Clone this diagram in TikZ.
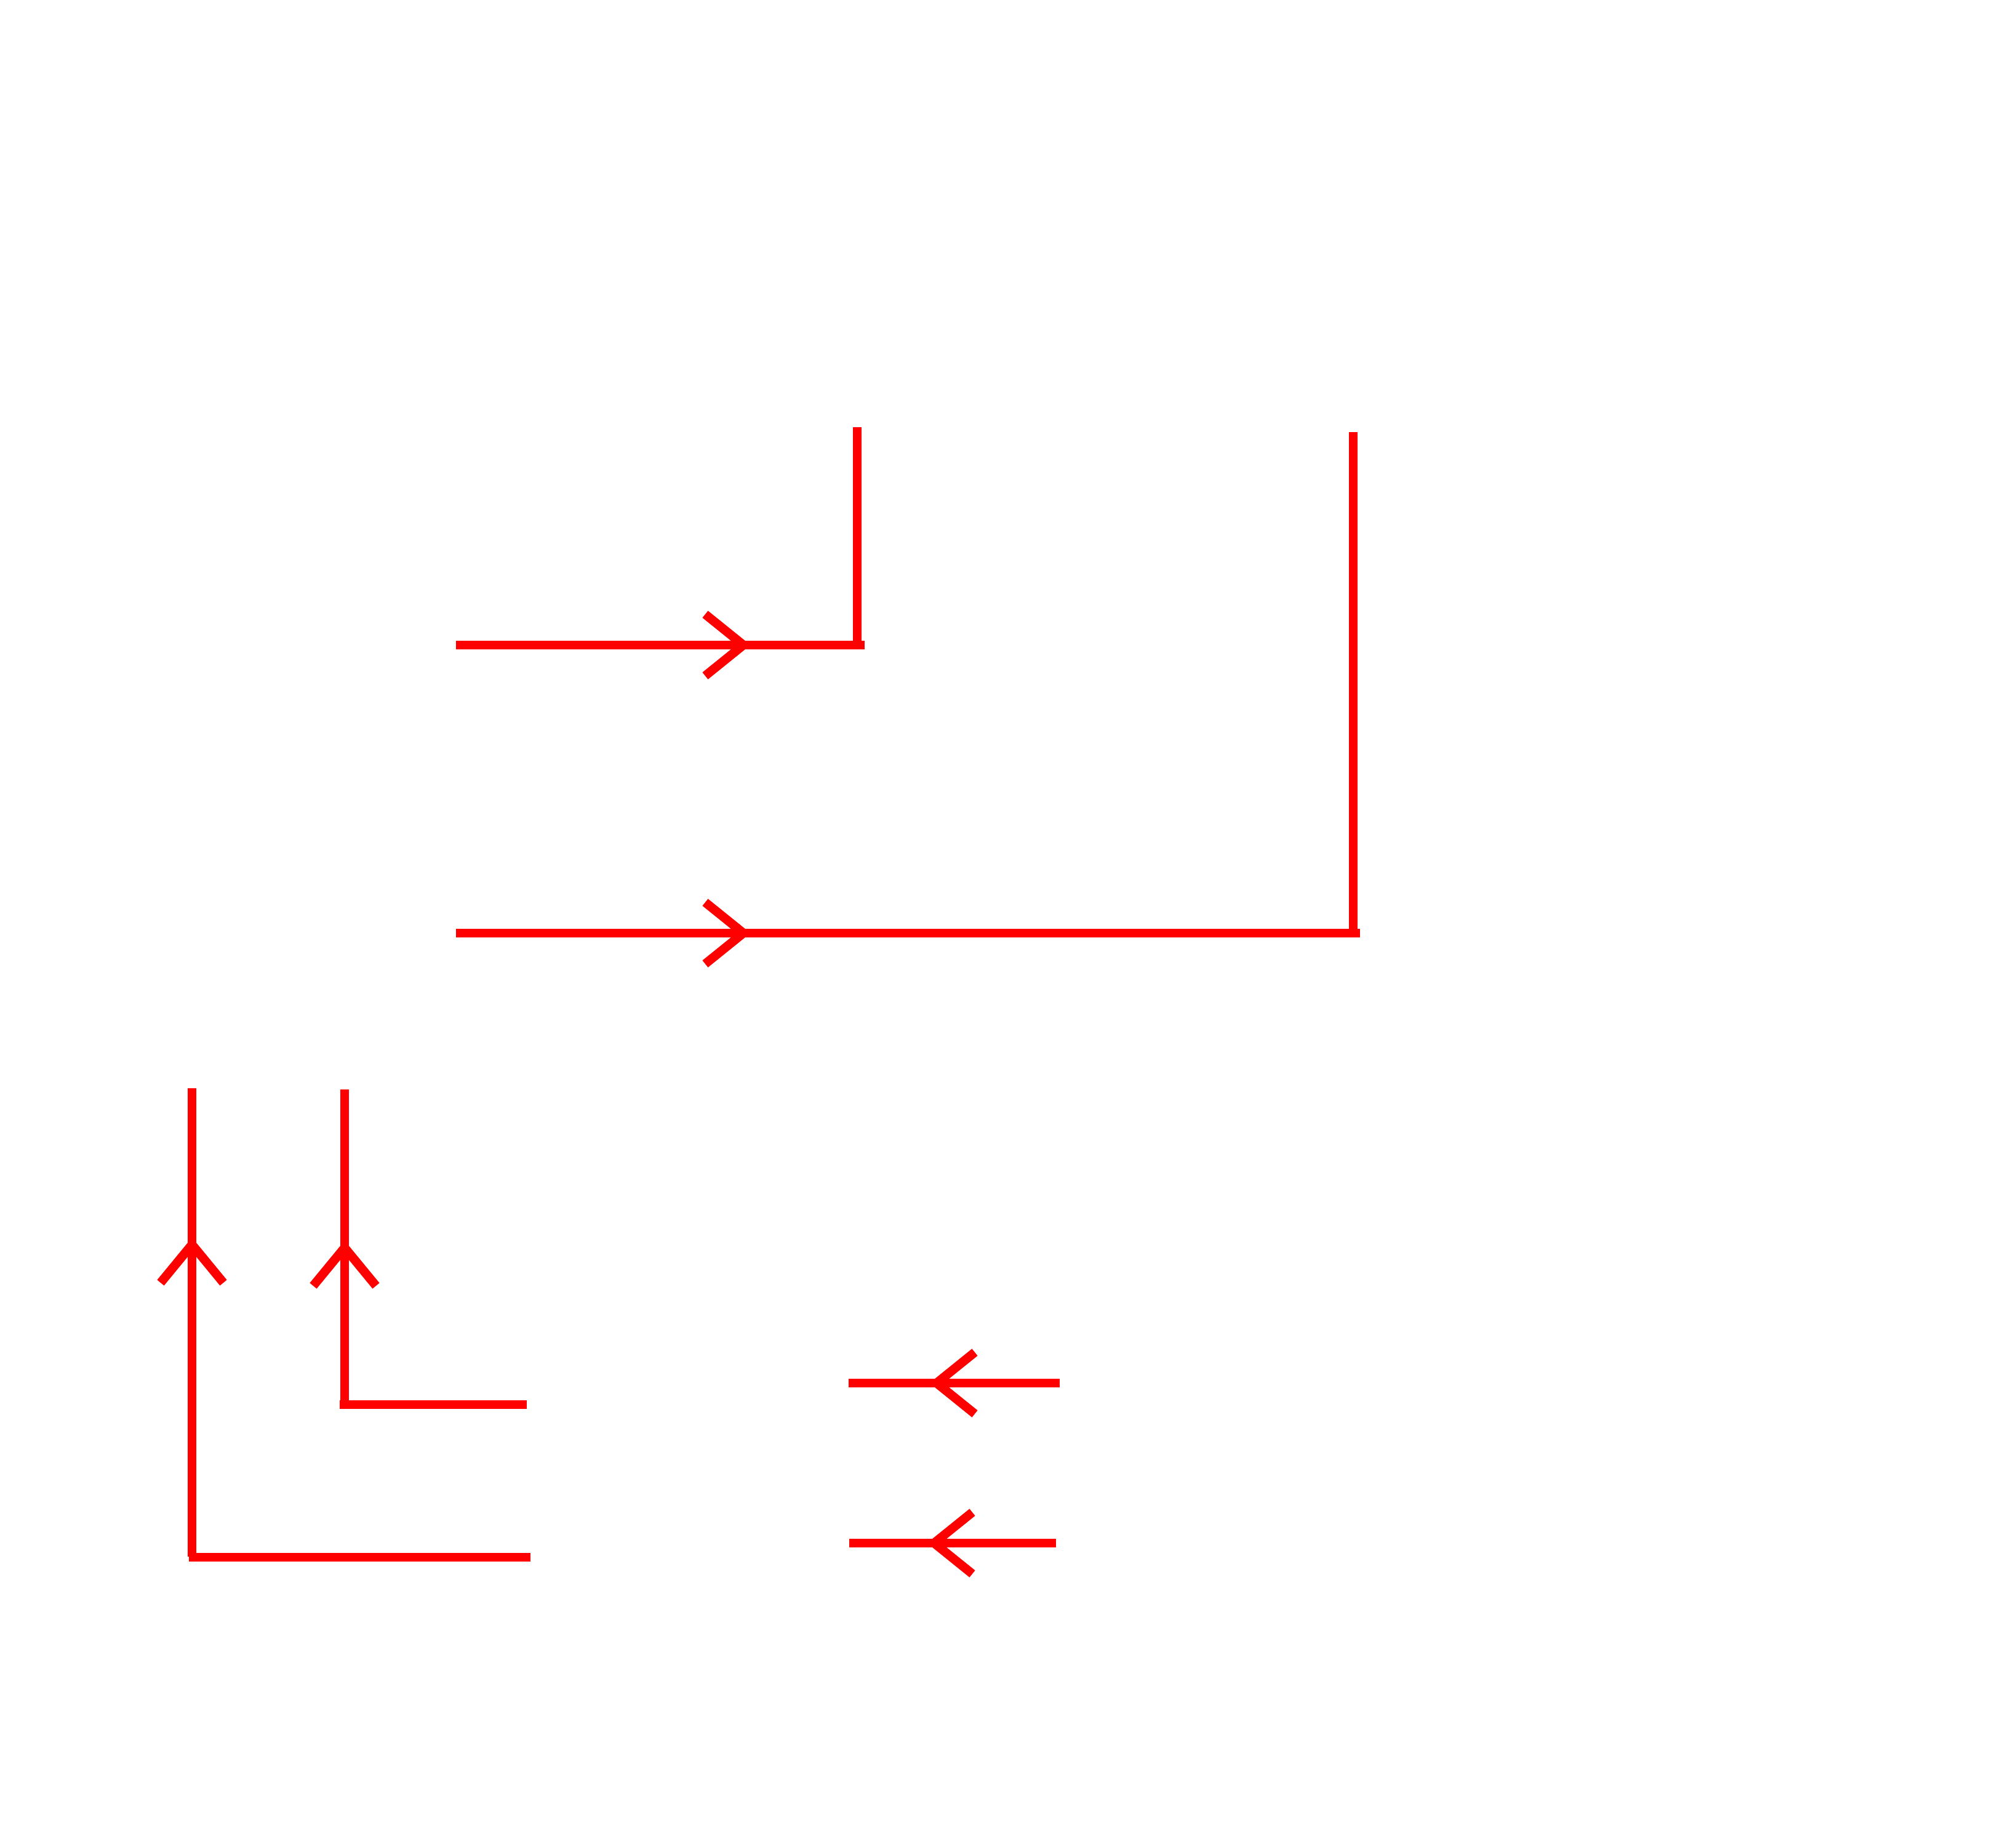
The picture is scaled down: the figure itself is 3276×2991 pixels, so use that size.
\documentclass[tikz,border=0pt]{standalone}
\begin{document}
\begin{tikzpicture}[x=0.1pt,y=-0.1pt,
  wire/.style={draw=red,line width=1.45pt,line cap=butt},
  headarm/.style={draw=red,line width=1.45pt,line cap=butt,line join=miter}]
\useasboundingbox[fill=white] (0,0) rectangle (3276,2991);
% A
\coordinate (a1) at (741,1048); \coordinate (a2) at (1405,1048);
\coordinate (a3) at (1393,694); \coordinate (a4) at (1393,1048);
\draw[wire] (a1) -- (a2);
\draw[wire] (a3) -- (a4);
\draw[headarm] (1146,998) -- (1208,1048) -- (1146,1098);
% B
\coordinate (b1) at (741,1516); \coordinate (b2) at (2210,1516);
\coordinate (b3) at (2199,702); \coordinate (b4) at (2199,1516);
\draw[wire] (b1) -- (b2);
\draw[wire] (b3) -- (b4);
\draw[headarm] (1146,1466) -- (1208,1516) -- (1146,1566);
% C
\coordinate (c1) at (312,1768); \coordinate (c2) at (312,2529);
\coordinate (c3) at (307,2530); \coordinate (c4) at (862,2530);
\draw[wire] (c1) -- (c2);
\draw[wire] (c3) -- (c4);
\draw[headarm] (261,2084) -- (312,2022) -- (363,2084);
% D
\coordinate (d1) at (560,1770); \coordinate (d2) at (560,2281);
\coordinate (d3) at (552,2282); \coordinate (d4) at (856,2282);
\draw[wire] (d1) -- (d2);
\draw[wire] (d3) -- (d4);
\draw[headarm] (509,2089) -- (560,2027) -- (611,2089);
% E
\coordinate (e1) at (1379,2247); \coordinate (e2) at (1722,2247);
\draw[wire] (e1) -- (e2);
\draw[headarm] (1584,2197) -- (1522,2247) -- (1584,2297);
% F
\coordinate (f1) at (1380,2507); \coordinate (f2) at (1716,2507);
\draw[wire] (f1) -- (f2);
\draw[headarm] (1580,2457) -- (1518,2507) -- (1580,2557);
\end{tikzpicture}
\end{document}
